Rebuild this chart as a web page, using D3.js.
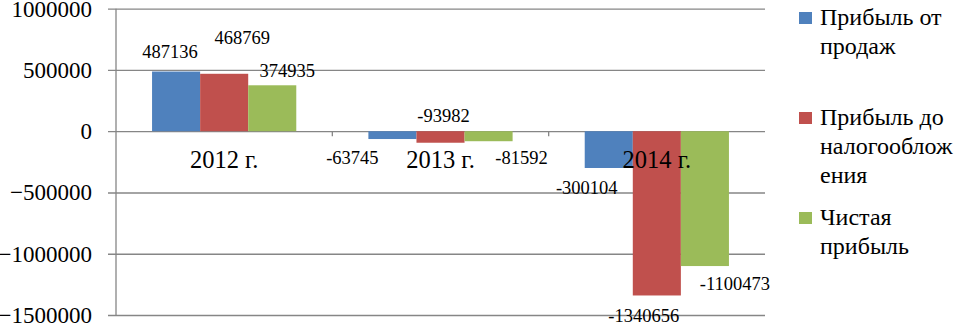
<!DOCTYPE html>
<html>
<head>
<meta charset="utf-8">
<script src="https://cdn.jsdelivr.net/npm/d3@7"></script>
<style>
  body { margin: 0; background: #fff; }
  svg text { font-family: "Liberation Serif", "Times New Roman", serif; fill: #000; }
</style>
</head>
<body>
<div id="chart"></div>
<script>
// chart data
var years = ["2012 г.", "2013 г.", "2014 г."];
var seriesNames = ["Прибыль от продаж", "Прибыль до налогообложения", "Чистая прибыль"];
var salesProfit = [487136, -63745, -300104];
var preTaxProfit = [468769, -93982, -1340656];
var netProfit = [374935, -81592, -1100473];
var yTicks = [1000000, 500000, 0, -500000, -1000000, -1500000];

// legend lines, wrapped like the original
var legendLines = [["Прибыль от", "продаж"], ["Прибыль до", "налогооблож", "ения"], ["Чистая", "прибыль"]];
// label nudges (dx, dy from bar end), Excel moved them around by hand
var labelNudge = [
  [[-6, -20], [-40, 18], [-22, 20]],
  [[18, -36], [3, -27], [-13, 20]],
  [[15, -15], [33, 16], [30, 17]]
];

var W = 957, H = 324;
var colors = ["#4F81BD", "#C0504D", "#9BBB59"];
var gridColor = "#868686";

document.addEventListener('DOMContentLoaded', function(){
  var svg = d3.select("#chart").append("svg")
    .attr("width", W).attr("height", H);

  var left = 116, right = 765, top = 8.7, bottom = 315;

  var y = d3.scaleLinear().domain([-1500000, 1000000]).range([bottom, top]);
  var x0 = d3.scaleBand().domain(years).range([left, right]);
  var x1 = d3.scaleBand().domain(d3.range(3)).range([0, x0.bandwidth()])
    .paddingInner(0).paddingOuter(0.75);

  var series = [salesProfit, preTaxProfit, netProfit];

  // gridlines + y labels
  var yAxis = d3.axisLeft(y).tickValues(yTicks).tickSize(-(right - left))
    .tickFormat(function(d){ return d3.format("d")(d); }).tickPadding(24);
  var gy = svg.append("g").attr("transform", "translate(" + left + ",0)").call(yAxis);
  gy.select(".domain").remove();
  gy.selectAll(".tick line").attr("stroke", gridColor).attr("stroke-width", 1.3)
    .attr("x1", -8);
  gy.selectAll(".tick text").attr("font-size", 23).attr("font-family", "Liberation Serif")
    .attr("fill", "#000");

  // vertical axis line
  svg.append("line").attr("x1", left).attr("x2", left).attr("y1", top).attr("y2", bottom)
    .attr("stroke", gridColor).attr("stroke-width", 1.3);

  // bars
  series.forEach(function(vals, s){
    svg.append("g").selectAll("rect").data(vals).enter().append("rect")
      .attr("x", function(d, i){ return x0(years[i]) + x1(s); })
      .attr("width", x1.bandwidth())
      .attr("y", function(d){ return y(Math.max(0, d)); })
      .attr("height", function(d){ return Math.abs(y(d) - y(0)); })
      .attr("fill", colors[s]);
  });

  // category ticks on zero line
  svg.append("g").selectAll("line").data(years.slice(1)).enter().append("line")
    .attr("x1", function(d){ return x0(d); }).attr("x2", function(d){ return x0(d); })
    .attr("y1", y(0)).attr("y2", y(0) + 5)
    .attr("stroke", gridColor).attr("stroke-width", 1.3);

  // category labels
  svg.append("g").selectAll("text").data(years).enter().append("text")
    .attr("x", function(d){ return x0(d) + x0.bandwidth() / 2; })
    .attr("y", y(0) + 37)
    .attr("text-anchor", "middle").attr("font-size", 24.5)
    .text(function(d){ return d; });

  // data labels
  series.forEach(function(vals, s){
    svg.append("g").selectAll("text").data(vals).enter().append("text")
      .attr("x", function(d, i){ return x0(years[i]) + x1(s) + x1.bandwidth() / 2 + labelNudge[s][i][0]; })
      .attr("y", function(d, i){ return y(d) + labelNudge[s][i][1]; })
      .attr("dy", "0.35em")
      .attr("text-anchor", "middle").attr("font-size", 18.5)
      .text(function(d){ return d; });
  });

  // legend
  var legendTop = [25, 125, 225];
  var lg = svg.append("g");
  seriesNames.forEach(function(name, s){
    var g = lg.append("g").attr("transform", "translate(799," + legendTop[s] + ")");
    g.append("rect").attr("x", 0).attr("y", -13).attr("width", 13).attr("height", 12)
      .attr("fill", colors[s]);
    g.selectAll("text").data(legendLines[s]).enter().append("text")
      .attr("x", 21).attr("y", function(d, i){ return i * 29; })
      .attr("font-size", 24)
      .text(function(d){ return d; });
  });
});
</script>
</body>
</html>
